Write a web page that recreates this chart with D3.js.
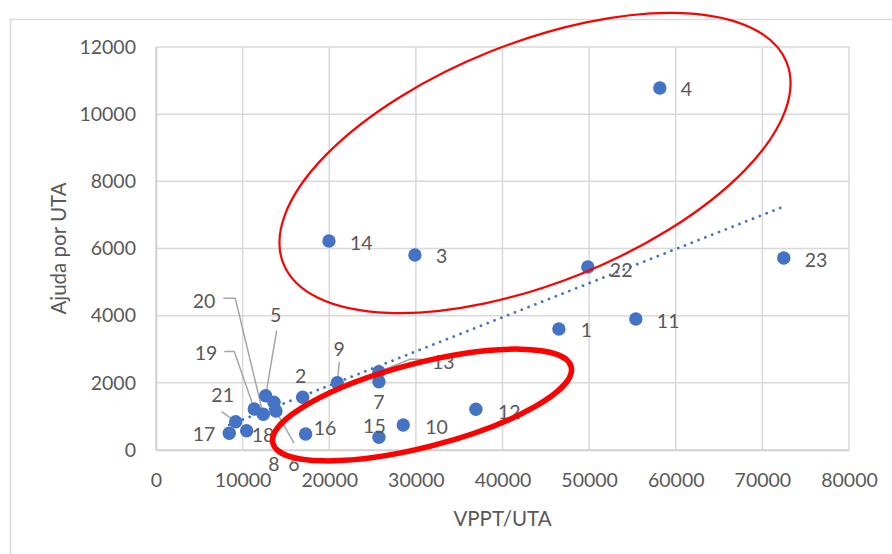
<!DOCTYPE html>
<html>
<head>
<meta charset="utf-8">
<script src="https://cdn.jsdelivr.net/npm/d3@7"></script>
<style>
  html, body { margin: 0; padding: 0; background: #ffffff; }
  svg { display: block; font-family: Lato, "Open Sans", "Liberation Sans", sans-serif; }
</style>
</head>
<body>
<svg id="chart" width="892" height="554"></svg>
<script>
// Farm identifiers and their values
const ids = [1, 2, 3, 4, 5, 6, 7, 8, 9, 10, 11, 12, 13, 14, 15, 16, 17, 18, 19, 20, 21, 22, 23];
// VPPT per UTA (x)
const vpptUta = [46506, 16930, 29889, 58162, 12659, 13848, 25734, 13617, 20925, 28541, 55392, 36928,
                 25734, 19964, 25734, 17275, 8459, 10467, 11344, 12382, 9197, 49853, 72471];
// Ajuda per UTA (y)
const ajudaUta = [3603, 1569, 5807, 10780, 1617, 1161, 2034, 1420, 2004, 744, 3901, 1212,
                  2332, 6224, 378, 476, 497, 575, 1221, 1063, 843, 5450, 5718];

const xTicks = [0, 10000, 20000, 30000, 40000, 50000, 60000, 70000, 80000];
const yTicks = [0, 2000, 4000, 6000, 8000, 10000, 12000];
const xTitle = "VPPT/UTA";
const yTitle = "Ajuda por UTA";

// Label placement relative to each marker (pixels); optional leader line points
const labelLayout = {
  1:  { a: "start", dx: 22, dy: 1 },
  2:  { a: "middle", dx: -2, dy: -22 },
  3:  { a: "start", dx: 21, dy: 1 },
  4:  { a: "start", dx: 21, dy: 1 },
  5:  { a: "middle", dx: 10, dy: -81, leader: [[11, -65], [0, 0]] },
  6:  { a: "middle", dx: 18, dy: 52, leader: [[0, 0], [18, 32]] },
  7:  { a: "middle", dx: 0, dy: 20 },
  8:  { a: "middle", dx: 0, dy: 61 },
  9:  { a: "middle", dx: 2, dy: -34, leader: [[0, 0], [2, -21]] },
  10: { a: "start", dx: 22, dy: 1 },
  11: { a: "start", dx: 21, dy: 2 },
  12: { a: "start", dx: 22, dy: 2 },
  13: { a: "start", dx: 53, dy: -10, leader: [[0, 0], [31, -12.5], [43, -12.5]] },
  14: { a: "start", dx: 21, dy: 2 },
  15: { a: "middle", dx: -4.5, dy: -12 },
  16: { a: "start", dx: 8, dy: -7 },
  17: { a: "end", dx: -14, dy: 0 },
  18: { a: "start", dx: 5, dy: 4 },
  19: { a: "end", dx: -37, dy: -56, leader: [[-30, -57.5], [-20, -57.5], [0, 0]] },
  20: { a: "end", dx: -48, dy: -114, leader: [[-40, -116], [-28, -116], [0, 0]] },
  21: { a: "middle", dx: -13, dy: -27, leader: [[-14, -10], [0, 0]] },
  22: { a: "start", dx: 22, dy: 3 },
  23: { a: "start", dx: 21, dy: 2 }
};

const points = ids.map((id, i) => ({ id, x: vpptUta[i], y: ajudaUta[i] }));

const svg = d3.select("#chart");
const plot = { left: 156, right: 849, top: 47, bottom: 450 };

const x = d3.scaleLinear().domain([0, 80000]).range([plot.left, plot.right]);
const y = d3.scaleLinear().domain([0, 12000]).range([plot.bottom, plot.top]);

const gridColor = "#d9d9d9";
const textColor = "#595959";
const markerColor = "#4472c4";

// Outer chart frame
svg.append("path")
  .attr("d", "M10.5,560 L10.5,19.5 L900,19.5")
  .attr("fill", "none").attr("stroke", gridColor).attr("stroke-width", 1.5);

// Gridlines
const grid = svg.append("g");
grid.selectAll("line.h").data(yTicks).join("line").attr("class", "h")
  .attr("x1", plot.left).attr("x2", plot.right)
  .attr("y1", d => y(d)).attr("y2", d => y(d))
  .attr("stroke", gridColor).attr("stroke-width", 1.5);
grid.selectAll("line.v").data(xTicks).join("line").attr("class", "v")
  .attr("x1", d => x(d)).attr("x2", d => x(d))
  .attr("y1", plot.top).attr("y2", plot.bottom)
  .attr("stroke", gridColor).attr("stroke-width", 1.5);

// Axes (labels only, no tick marks)
const xAxis = svg.append("g")
  .attr("transform", `translate(0,${plot.bottom})`)
  .call(d3.axisBottom(x).tickValues(xTicks).tickFormat(d3.format("d")).tickSize(0).tickPadding(22));
xAxis.select(".domain").attr("stroke", "#cfcfcf").attr("stroke-width", 1.5);
xAxis.selectAll("text").attr("fill", textColor).attr("font-size", 19.5)
  .attr("font-family", "Lato, sans-serif").attr("dy", "0.32em").attr("y", 31);

const yAxis = svg.append("g")
  .attr("transform", `translate(${plot.left},0)`)
  .call(d3.axisLeft(y).tickValues(yTicks).tickFormat(d3.format("d")).tickSize(0).tickPadding(20));
yAxis.select(".domain").attr("stroke", "#cfcfcf").attr("stroke-width", 1.5);
yAxis.selectAll("text").attr("fill", textColor).attr("font-size", 19.5)
  .attr("font-family", "Lato, sans-serif");

// Axis titles
svg.append("text")
  .attr("x", (plot.left + plot.right) / 2).attr("y", 518)
  .attr("text-anchor", "middle").attr("dominant-baseline", "central")
  .attr("fill", textColor).attr("font-size", 20.5).text(xTitle);
svg.append("text")
  .attr("transform", `translate(58,${(plot.top + plot.bottom) / 2}) rotate(-90)`)
  .attr("text-anchor", "middle").attr("dominant-baseline", "central")
  .attr("fill", textColor).attr("font-size", 20.5).text(yTitle);

// Linear trendline (least squares)
const mx = d3.mean(points, d => d.x), my = d3.mean(points, d => d.y);
const slope = d3.sum(points, d => (d.x - mx) * (d.y - my)) / d3.sum(points, d => (d.x - mx) ** 2);
const intercept = my - slope * mx;
const [xmin, xmax] = d3.extent(points, d => d.x);
svg.append("path")
  .datum([xmin, xmax])
  .attr("d", d3.line().x(d => x(d)).y(d => y(intercept + slope * d)))
  .attr("fill", "none").attr("stroke", markerColor).attr("stroke-width", 2.8)
  .attr("stroke-linecap", "round").attr("stroke-dasharray", "0.01 7.3");

// Leader lines
const leaders = svg.append("g");
points.filter(p => labelLayout[p.id].leader).forEach(p => {
  const L = labelLayout[p.id].leader;
  leaders.append("path")
    .datum(L)
    .attr("d", d3.line().x(d => x(p.x) + d[0]).y(d => y(p.y) + d[1]))
    .attr("fill", "none").attr("stroke", "#a6a6a6").attr("stroke-width", 1.5);
});

// Markers
svg.append("g").selectAll("circle").data(points).join("circle")
  .attr("cx", d => x(d.x)).attr("cy", d => y(d.y)).attr("r", 6.7)
  .attr("fill", markerColor);

// Data labels
svg.append("g").selectAll("text").data(points).join("text")
  .attr("x", d => x(d.x) + labelLayout[d.id].dx)
  .attr("y", d => y(d.y) + labelLayout[d.id].dy)
  .attr("text-anchor", d => labelLayout[d.id].a)
  .attr("dominant-baseline", "central")
  .attr("fill", textColor).attr("font-size", 19.5)
  .text(d => d.id);

// Highlight ellipses
svg.append("ellipse")
  .attr("cx", 535).attr("cy", 163).attr("rx", 271).attr("ry", 120)
  .attr("transform", "rotate(-21.8 535 163)")
  .attr("fill", "none").attr("stroke", "#ff0000").attr("stroke-width", 2.2);
svg.append("ellipse")
  .attr("cx", 422).attr("cy", 405).attr("rx", 154).attr("ry", 42)
  .attr("transform", "rotate(-14.4 422 405)")
  .attr("fill", "none").attr("stroke", "#ff0000").attr("stroke-width", 5.5);
</script>
</body>
</html>
